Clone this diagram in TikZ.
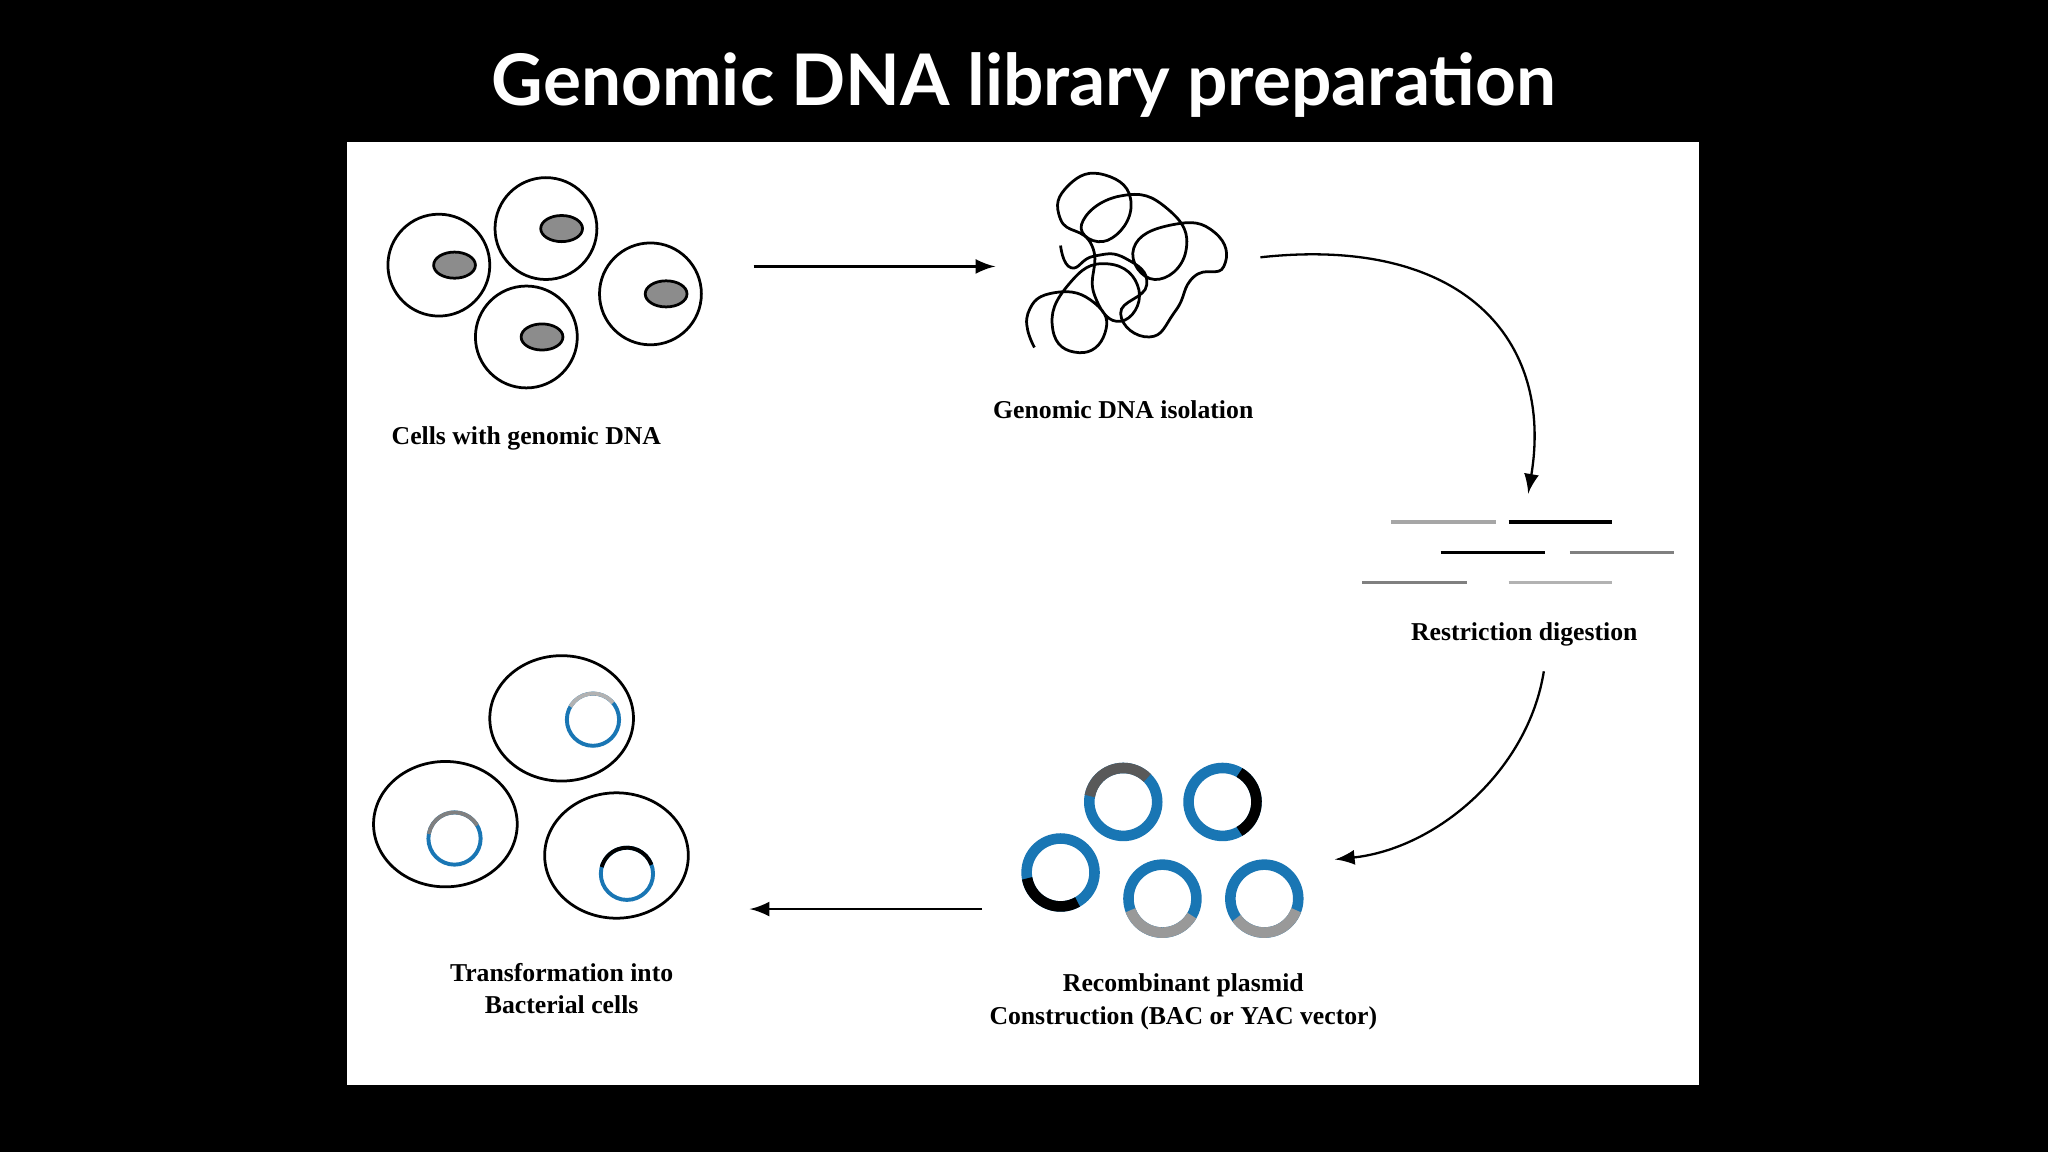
\documentclass[tikz,border=0pt]{standalone}
\usepackage{fontspec}
\setmainfont{Liberation Serif}
\newfontfamily\lato{Lato}
\begin{document}
\begin{tikzpicture}[x=0.01cm,y=-0.01cm,
  cell/.style={draw=black,line width=0.6pt,fill=white},
  nuc/.style={draw=black,line width=0.6pt,fill=gray!90},
  lab/.style={font=\bfseries\fontsize{5.6pt}{7pt}\selectfont,align=center},
  arr/.style={-latex,line width=0.5pt},
  ring/.style={draw={rgb,255:red,25;green,118;blue,180},line width=2.3pt},
  sring/.style={draw={rgb,255:red,25;green,118;blue,180},line width=0.85pt},
  frag/.style={line width=0.85pt}]
\fill[black] (0,0) rectangle (1568,882);
\useasboundingbox (0,0) rectangle (1568,882);
\fill[white] (266,109) rectangle (1301,831);
\node[font=\lato\bfseries\fontsize{15.5pt}{18pt}\selectfont,text=white] (title) at (784,65) {Genomic DNA library preparation};
% cells
\foreach \x/\y/\n in {336/203/a,418/175/b,498/225/c,403/258/d}{
  \draw[cell] (\x,\y) circle (39);
  \draw[nuc] (\x+12,\y) ellipse (16 and 10);
}
\node[lab] (l1) at (403,336) {Cells with genomic DNA};
\coordinate (a1s) at (577,204); \coordinate (a1e) at (762,204);
\draw[arr] (a1s) -- (a1e);
% tangle
\draw[line width=0.6pt] plot[smooth,tension=0.9] coordinates{
 (792,266) (787,240) (808,224) (838,232) (846,255) (826,270) (806,252) (818,218)
 (848,202) (872,222) (858,246) (838,226) (836,188) (812,168) (818,142) (846,134)
 (866,156) (848,184) (828,172) (858,150) (894,160) (908,192) (884,214) (868,190)
 (898,172) (930,178) (937,204) (914,212) (900,238) (880,258) (858,240) (878,218)
 (862,198) (838,196) (820,205) (812,188)};
\node[lab] (l2) at (860,314) {Genomic DNA isolation};
\coordinate (a2s) at (965,197); \coordinate (a2e) at (1170,378);
\draw[arr] (a2s) .. controls (1120,180) and (1190,260) .. (a2e);
% fragments
\draw[frag,gray!70] (1065,400) -- (1145,400);
\draw[frag,black] (1155,400) -- (1234,400);
\draw[frag,black] (1103,423) -- (1183,423);
\draw[frag,gray] (1202,423) -- (1282,423);
\draw[frag,gray] (1043,446) -- (1123,446);
\draw[frag,gray!60] (1155,446) -- (1234,446);
\node[lab] (l3) at (1167,486) {Restriction digestion};
\coordinate (a3s) at (1182,514); \coordinate (a3e) at (1022,658);
\draw[arr] (a3s) .. controls (1170,590) and (1100,650) .. (a3e);
% plasmids
\foreach \x/\y/\a/\b/\c in {860/614/-45/-170/black!65,936/614/60/-60/black,812/668/-190/-300/black,890/688/-200/-330/gray!80,968/688/-215/-340/gray!80}{
  \draw[ring] (\x,\y) circle (26);
  \draw[line width=2.3pt,draw=\c] ([shift={(\a:26)}]\x,\y) arc (\a:\b:26);
}
\node[lab] (l4) at (906,767) {Recombinant plasmid\\Construction (BAC or YAC vector)};
\coordinate (a4s) at (752,696); \coordinate (a4e) at (574,696);
\draw[arr] (a4s) -- (a4e);
% bacteria
\foreach \x/\y/\px/\py/\a/\b/\c in {430/550/454/551/-40/-150/gray!60,341/631/348/642/-30/-170/gray,472/655/480/669/-20/-165/black}{
  \draw[cell] (\x,\y) ellipse (55 and 48);
  \draw[sring] (\px,\py) circle (20);
  \draw[line width=0.85pt,draw=\c] ([shift={(\a:20)}]\px,\py) arc (\a:\b:20);
}
\node[lab] (l5) at (430,757) {Transformation into\\Bacterial cells};
\end{tikzpicture}
\end{document}
